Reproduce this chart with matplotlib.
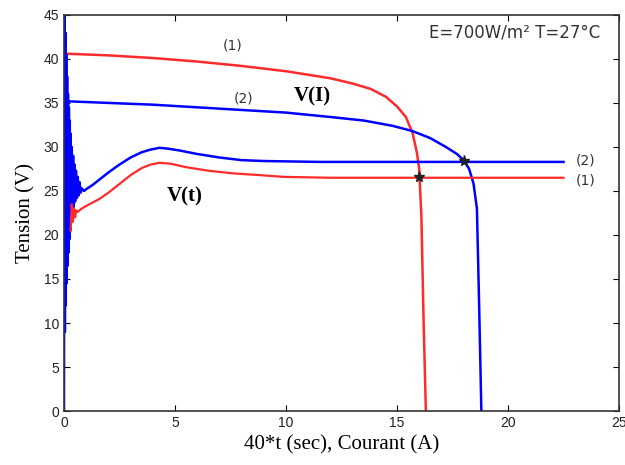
import matplotlib
matplotlib.use("Agg")
import matplotlib.pyplot as plt

# V(I) characteristics, case (1) red and case (2) blue
i_red = [0, 2, 4, 6, 8, 10, 11, 12, 13, 13.8, 14.5, 15.0, 15.4, 15.7, 15.9,
         16.0, 16.1, 16.2, 16.3]
v_red = [40.6, 40.4, 40.1, 39.7, 39.2, 38.6, 38.2, 37.8, 37.2, 36.6, 35.7,
         34.6, 33.4, 31.6, 29.3, 27.5, 22, 10, 0]
i_blue = [0, 2, 4, 6, 8, 10, 12, 13.5, 14.8, 15.7, 16.5, 17.2, 17.7, 18.0,
          18.25, 18.45, 18.6, 18.7, 18.8]
v_blue = [35.2, 35.0, 34.8, 34.5, 34.2, 33.9, 33.4, 33.0, 32.4, 31.8, 31.0,
          30.0, 29.2, 28.5, 27.5, 25.8, 23, 12, 0]

# V(t) transients (x axis is 40*t); start-up oscillation read point by point
t_blue = [0, 0.02, 0.04, 0.06, 0.08, 0.10, 0.12, 0.14, 0.16, 0.18, 0.20, 0.22,
          0.24, 0.26, 0.28, 0.30, 0.32, 0.35, 0.38, 0.41, 0.44, 0.47, 0.50,
          0.54, 0.58, 0.62, 0.66, 0.70, 0.75, 0.80, 0.90, 1.0, 1.3, 1.6, 2.0,
          2.5, 3.0, 3.5, 3.9, 4.3, 4.7, 5.2, 6.0, 7.0, 8.0, 9.0, 11.5, 15, 19,
          22.5]
vt_blue = [0, 45, 9, 43, 12, 40.5, 14.5, 38, 16.5, 36, 18, 34.5, 19.5, 33,
           20.5, 31.5, 21.5, 30, 22.5, 29, 23.2, 28, 23.8, 27.3, 24.2, 26.6,
           24.5, 26.0, 24.8, 25.3, 25.0, 25.2, 25.7, 26.3, 27.1, 28.0, 28.8,
           29.4, 29.7, 29.9, 29.8, 29.6, 29.2, 28.8, 28.5, 28.4, 28.3, 28.3,
           28.3, 28.3]
t_red = [0.3, 0.35, 0.4, 0.45, 0.5, 0.55, 0.6, 0.8, 1.0, 1.3, 1.6, 2.0, 2.5,
         3.0, 3.5, 3.9, 4.3, 4.8, 5.5, 6.5, 7.6, 8.8, 9.9, 12, 16, 19, 22.5]
vt_red = [20.5, 23.5, 21.5, 23.0, 22.0, 22.8, 22.6, 23.0, 23.3, 23.7, 24.1,
          24.8, 25.8, 26.8, 27.6, 28.0, 28.2, 28.1, 27.7, 27.3, 27.0, 26.8,
          26.6, 26.5, 26.5, 26.5, 26.5]

# operating points
op_i = [16.0, 18.0]
op_v = [26.6, 28.4]

fig = plt.figure(figsize=(6.25, 4.65), dpi=100)
ax = fig.add_axes([0.1024, 0.116, 0.888, 0.852])

red = '#ff2a2a'
blue = '#0000ff'
ax.plot(i_red, v_red, color=red, lw=1.8)
ax.plot(i_blue, v_blue, color=blue, lw=1.8)
ax.plot(t_blue, vt_blue, color=blue, lw=1.8)
ax.plot(t_red, vt_red, color=red, lw=1.6)
ax.plot(op_i, op_v, ls='none', marker='*', ms=8, color='#222222')

ax.set_xlim(0, 25)
ax.set_ylim(0, 45)
ax.set_xticks([0, 5, 10, 15, 20, 25])
ax.set_yticks(range(0, 46, 5))
ax.tick_params(direction='in', top=True, right=True, length=4,
               labelsize=10, labelcolor='#222222')
for lab in ax.get_xticklabels() + ax.get_yticklabels():
    lab.set_family('Liberation Sans')
for s in ax.spines.values():
    s.set_linewidth(1.2)
    s.set_color('#333333')

ax.set_ylabel('Tension (V)', family='Liberation Serif', fontsize=15, labelpad=6)
ax.set_xlabel('40*t (sec), Courant (A)', family='Liberation Serif', fontsize=15, labelpad=4)

ax.text(7.6, 41.5, '(1)', fontsize=10, color='#333333', ha='center', va='center')
ax.text(8.1, 35.5, '(2)', fontsize=10, color='#333333', ha='center', va='center')
ax.text(23.5, 28.5, '(2)', fontsize=10, color='#333333', ha='center', va='center')
ax.text(23.5, 26.2, '(1)', fontsize=10, color='#333333', ha='center', va='center')
ax.text(11.2, 35.7, 'V(I)', family='Liberation Serif', fontweight='bold',
        fontsize=15, ha='center', va='center')
ax.text(5.45, 24.4, 'V(t)', family='Liberation Serif', fontweight='bold',
        fontsize=15, ha='center', va='center')
ax.text(20.3, 43.0, 'E=700W/m² T=27°C', fontsize=12, color='#333333',
        ha='center', va='center')

fig.savefig('out.png', dpi=100)
